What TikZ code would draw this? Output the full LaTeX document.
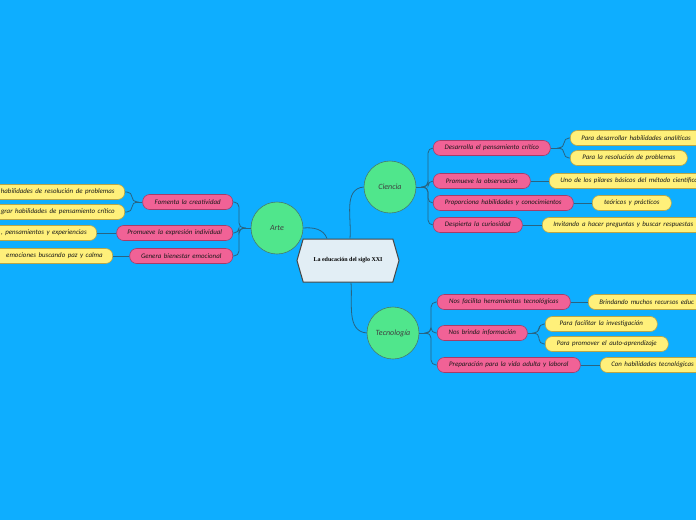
\documentclass[tikz,border=0pt]{standalone}
\usepackage{fontspec}
\usetikzlibrary{shapes.symbols,calc}
\newfontfamily\labfont[WordSpace=1.6]{Carlito}
\newfontfamily\hubfont{Liberation Serif}
\definecolor{bgc}{RGB}{14,174,255}
\definecolor{pinkF}{RGB}{241,98,150}
\definecolor{pinkB}{RGB}{165,60,105}
\definecolor{yelF}{RGB}{255,240,122}
\definecolor{yelB}{RGB}{185,165,70}
\definecolor{grnF}{RGB}{80,230,140}
\definecolor{grnB}{RGB}{70,125,110}
\definecolor{hubF}{RGB}{226,238,245}
\definecolor{hubB}{RGB}{70,70,70}
\definecolor{lineC}{RGB}{40,100,130}
\definecolor{txtC}{RGB}{25,25,25}
\tikzset{
  boxbase/.style={rounded corners=7pt, minimum height=15pt, inner ysep=0pt, inner xsep=0pt,
    font=\labfont\itshape\fontsize{6.9}{7}\selectfont, text=txtC, line width=0.6pt},
  pinkbox/.style={boxbase, draw=pinkB, fill=pinkF},
  yelbox/.style={boxbase, draw=yelB, fill=yelF},
  cutbox/.style={inner xsep=11pt},
  topic/.style={circle, draw=grnB, fill=grnF, minimum size=52pt, inner sep=0pt, line width=0.6pt,
    font=\labfont\itshape\fontsize{8}{8}\selectfont, text=black!75},
  hubnode/.style={signal, signal to=east and west, signal pointer angle=148, draw=hubB, fill=hubF,
    line width=1pt, minimum width=102pt, minimum height=43pt, inner sep=0pt,
    font=\hubfont\bfseries\fontsize{6}{6}\selectfont},
  conn/.style={draw=lineC, line width=0.8pt},
  bconn/.style={conn, rounded corners=5pt}
}
\begin{document}
\begin{tikzpicture}[x=1pt,y=-1pt]
\fill[bgc] (0,0) rectangle (696,520);
\useasboundingbox (0,0) rectangle (696,520);

% central
\node[hubnode] (hub) at (348,260.5) {La educación del siglo XXI};
\node[topic] (arte) at (277,228) {Arte};
\node[topic] (ciencia) at (390,187) {Ciencia};
\node[topic] (tec) at (393,333) {Tecnología};

\coordinate (hA) at ($(hub.north)+(-21,0)$);
\coordinate (hC) at ($(hub.north)+(2,0)$);
\coordinate (hT) at ($(hub.south)+(3,0)$);
\draw[conn] (arte.east) to[out=5,in=110] (hA);
\draw[conn] (hC) to[out=85,in=185] (ciencia.west);
\draw[conn] (hT) to[out=-85,in=175] (tec.west);

% Ciencia branch
\node[pinkbox, minimum width=117pt, anchor=west] (c1) at (433,148) {Desarrolla el pensamiento crítico};
\node[pinkbox, minimum width=97pt, anchor=west] (c2) at (433,181) {Promueve la observación};
\node[pinkbox, minimum width=140pt, anchor=west] (c3) at (433,203) {Proporciona habilidades y conocimientos};
\node[pinkbox, minimum width=89pt, anchor=west] (c4) at (433,225) {Despierta la curiosidad};
\node[yelbox, cutbox, anchor=west] (c1a) at (570,138) {Para desarrollar habilidades analíticas\hspace*{20pt}};
\node[yelbox, minimum width=117pt, anchor=west] (c1b) at (570,158) {Para la resolución de problemas};
\node[yelbox, cutbox, anchor=west] (c2a) at (549,181) {Uno de los pilares básicos del método científico\hspace*{20pt}};
\node[yelbox, minimum width=79pt, anchor=west] (c3a) at (592,203) {teóricos y prácticos};
\node[yelbox, cutbox, anchor=west] (c4a) at (542,225) {Invitando a hacer preguntas y buscar respuestas\hspace*{20pt}};

\coordinate (jc) at (425,187);
\draw[conn] (ciencia.east) -- (jc);
\foreach \n in {c1,c2,c3,c4} \draw[bconn] (jc) -- (428,187) |- (\n.west);
\coordinate (jd) at (561,148);
\draw[conn] (c1.east) -- (jd);
\foreach \n in {c1a,c1b} \draw[bconn] (jd) -- (564,148) |- (\n.west);
\draw[conn] (c2.east) -- (c2a.west);
\draw[conn] (c3.east) -- (c3a.west);
\draw[conn] (c4.east) -- (c4a.west);

% Tecnologia branch
\node[pinkbox, minimum width=133pt, anchor=west] (t1) at (437,302) {Nos facilita herramientas tecnológicas};
\node[pinkbox, minimum width=90pt, anchor=west] (t2) at (437,333) {Nos brinda información};
\node[pinkbox, minimum width=143pt, anchor=west] (t3) at (437,365) {Preparación para la vida adulta y laboral};
\node[yelbox, cutbox, anchor=west] (t1a) at (588,302) {Brindando muchos recursos educ\hspace*{30pt}};
\node[yelbox, minimum width=112pt, anchor=west] (t2a) at (545,324) {Para facilitar la investigación};
\node[yelbox, minimum width=123pt, anchor=west] (t2b) at (545,344) {Para promover el auto-aprendizaje};
\node[yelbox, cutbox, anchor=west] (t3a) at (600,365) {Con habilidades tecnológicas\hspace*{20pt}};

\coordinate (jt) at (428,333);
\draw[conn] (tec.east) -- (jt);
\foreach \n in {t1,t2,t3} \draw[bconn] (jt) -- (431,333) |- (\n.west);
\coordinate (jt2) at (536,333);
\draw[conn] (t2.east) -- (jt2);
\foreach \n in {t2a,t2b} \draw[bconn] (jt2) -- (539,333) |- (\n.west);
\draw[conn] (t1.east) -- (t1a.west);
\draw[conn] (t3.east) -- (t3a.west);

% Arte branch
\node[pinkbox, minimum width=90pt, anchor=east] (a1) at (233,202) {Fomenta la creatividad};
\node[pinkbox, minimum width=116pt, anchor=east] (a2) at (233,233) {Promueve la expresión individual};
\node[pinkbox, minimum width=103pt, anchor=east] (a3) at (233,256) {Genera bienestar emocional};
\node[yelbox, inner xsep=10pt, anchor=east] (a1a) at (125,192) {\hspace*{20pt}habilidades de resolución de problemas};
\node[yelbox, inner xsep=10pt, anchor=east] (a1b) at (125,212) {\hspace*{20pt}grar habilidades de pensamiento crítico};
\node[yelbox, inner xsep=10pt, anchor=east] (a2a) at (97,233) {\hspace*{20pt}, pensamientos y experiencias};
\node[yelbox, inner xsep=10pt, anchor=east] (a3a) at (113,256) {\hspace*{20pt}emociones buscando paz y calma};

\coordinate (ja) at (242,228);
\draw[conn] (arte.west) -- (ja);
\foreach \n in {a1,a2,a3} \draw[bconn] (ja) -- (239,228) |- (\n.east);
\coordinate (ja1) at (135,202);
\draw[conn] (a1.west) -- (ja1);
\foreach \n in {a1a,a1b} \draw[bconn] (ja1) -- (132,202) |- (\n.east);
\draw[conn] (a2.west) -- (a2a.east);
\draw[conn] (a3.west) -- (a3a.east);
\end{tikzpicture}
\end{document}
